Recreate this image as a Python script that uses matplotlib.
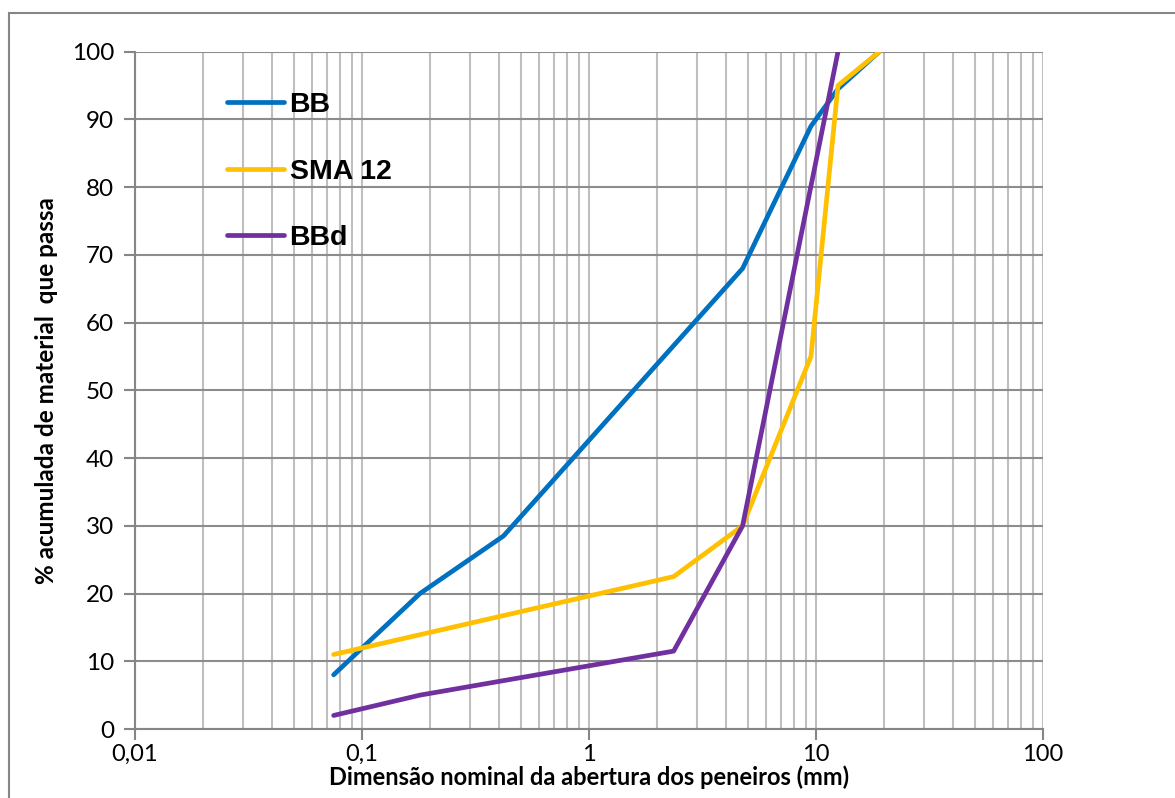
import matplotlib
matplotlib.use('Agg')
import matplotlib.pyplot as plt
import numpy as np
from matplotlib.patches import Rectangle
from matplotlib.ticker import FixedLocator, NullFormatter

# aberturas (mm) e % passante
bb_x = [0.075, 0.18, 0.42, 4.75, 9.5, 12.5, 19]
bb_y = [8, 20, 28.5, 68, 89, 94.5, 100]

sma_x = [0.075, 2.36, 4.75, 9.5, 12.5, 19]
sma_y = [11, 22.5, 30, 55, 95, 100]

bbd_x = [0.075, 0.18, 2.36, 4.75, 12.5]
bbd_y = [2, 5, 11.5, 30, 100]

xticks = [0.01, 0.1, 1, 10, 100]
xtick_labels = ['0,01', '0,1', '1', '10', '100']
yticks = list(range(0, 101, 10))

fig = plt.figure(figsize=(11.75, 7.98), dpi=100)
W, H = 1175, 798
ax = fig.add_axes([135 / W, (H - 729) / H, (1043 - 135) / W, (729 - 51.7) / H])

# moldura externa do gráfico
fig.patches.append(Rectangle((9 / W, -0.1), 1.2, (H - 13) / H + 0.1, transform=fig.transFigure,
                             fill=False, edgecolor='#868686', linewidth=1.5))

ax.plot(bb_x, bb_y, color='#0070C0', lw=3.4, label='BB', solid_capstyle='round')
ax.plot(sma_x, sma_y, color='#FFC000', lw=3.4, label='SMA 12', solid_capstyle='round')
ax.plot(bbd_x, bbd_y, color='#7030A0', lw=3.4, label='BBd', solid_capstyle='round')

ax.set_xscale('log')
ax.set_xlim(0.01, 100)
ax.set_ylim(0, 100)

minors = [m * 10.0 ** e for e in range(-2, 2) for m in range(2, 10)]
ax.xaxis.set_major_locator(FixedLocator(xticks))
ax.xaxis.set_minor_locator(FixedLocator(minors))
ax.xaxis.set_minor_formatter(NullFormatter())
ax.set_xticks(xticks)
ax.set_xticklabels(xtick_labels)
ax.set_yticks(yticks)

ax.grid(True, axis='x', which='both', color='#bfbfbf', lw=1.5)
ax.grid(True, axis='y', which='major', color='#8c8c8c', lw=1.5)
ax.set_axisbelow(True)

for s in ['top', 'right']:
    ax.spines[s].set_visible(False)
for s in ['left', 'bottom']:
    ax.spines[s].set_color('#868686')
    ax.spines[s].set_linewidth(1.5)

ax.tick_params(axis='both', which='major', length=8, width=1.5, color='#868686')
ax.tick_params(axis='y', pad=7, labelsize=17.5)
ax.tick_params(axis='x', pad=3, labelsize=17)
ax.tick_params(axis='x', which='minor', length=0)
for lab in ax.get_xticklabels() + ax.get_yticklabels():
    lab.set_family('Lato')

ax.set_xlabel('Dimensão nominal da abertura dos peneiros (mm)', fontsize=17,
              fontweight='bold', family='Lato', labelpad=0)
ax.set_ylabel('% acumulada de material  que passa', fontsize=17.5,
              fontweight='bold', family='Lato', labelpad=10)

leg = ax.legend(loc='upper left', bbox_to_anchor=(0.073, 0.978), frameon=False,
                prop={'family': 'Liberation Sans', 'weight': 'bold', 'size': 20.5},
                handlelength=2.0, handletextpad=0.2, labelspacing=1.42)

fig.savefig('out.png', dpi=100)
